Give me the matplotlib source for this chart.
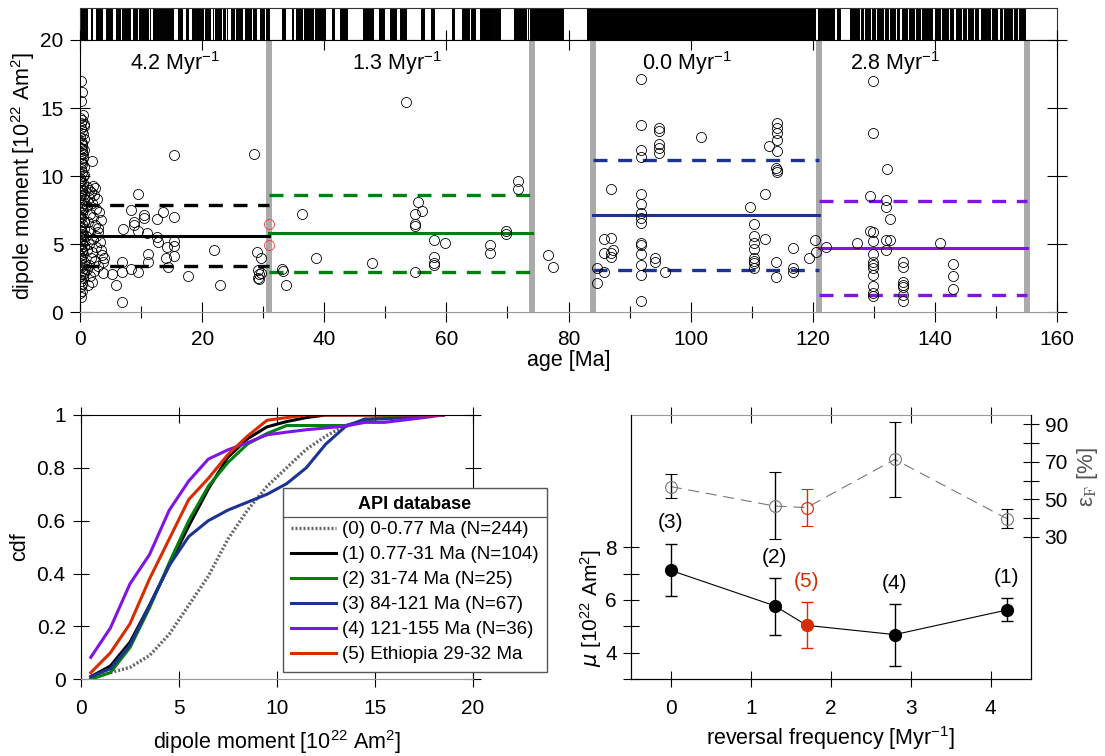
import matplotlib.pyplot as plt
from matplotlib.lines import Line2D
from matplotlib.transforms import IdentityTransform

plt.rcParams['font.family'] = ['Liberation Sans', 'DejaVu Sans']
plt.rcParams['mathtext.default'] = 'regular'
plt.rcParams['font.size'] = 15
plt.rcParams['xtick.direction'] = 'inout'
plt.rcParams['ytick.direction'] = 'inout'
plt.rcParams['axes.linewidth'] = 0.8

# ---------------- data ----------------
# polarity timescale, normal chrons (Ma)
normal_start = [0.0, 0.99, 1.77, 2.581, 3.11, 3.33, 4.18, 4.48, 4.8, 4.98, 5.894, 6.269, 6.935, 7.135,
                7.341, 7.432, 7.65, 8.225, 8.699, 9.23, 9.58, 9.74, 9.92, 11.052, 11.476, 11.935, 12.184,
                12.678, 12.775, 12.991, 13.302, 13.703, 14.178, 14.8, 15.034, 16.014, 16.327, 16.556,
                17.277, 18.281, 19.048, 20.518, 20.996, 21.768, 22.151, 22.459, 22.588, 22.804, 23.353,
                23.677, 23.999, 24.73, 24.835, 25.496, 25.823, 25.992, 27.027, 28.283, 28.578, 29.401,
                29.765, 30.479, 33.058, 34.655, 35.343, 35.685, 36.618, 37.604, 37.92, 38.426, 39.631,
                41.257, 42.536, 46.264, 49.037, 50.778, 51.047, 52.364, 52.757, 52.903, 55.904, 57.554,
                60.92, 62.499, 63.976, 65.578, 67.735, 71.071, 71.587, 73.291, 73.619, 83.0,
                120.8, 123.9, 126.1, 127.3, 127.9, 128.5, 129.0, 129.7, 130.5, 131.8, 132.6, 133.8,
                134.6, 135.8, 136.9, 137.9, 139.1, 140.0, 141.2, 142.5, 143.4, 144.6, 145.5, 146.6,
                147.5, 148.6, 149.3, 150.6, 151.3, 152.2, 152.9, 153.8]
normal_end = [0.78, 1.07, 1.95, 3.04, 3.22, 3.58, 4.29, 4.62, 4.89, 5.23, 6.137, 6.567, 7.091, 7.17,
              7.375, 7.562, 8.072, 8.257, 9.025, 9.308, 9.642, 9.88, 10.949, 11.099, 11.531, 12.078, 12.401,
              12.708, 12.819, 13.139, 13.51, 14.076, 14.612, 14.888, 15.155, 16.293, 16.488, 16.726,
              17.615, 18.781, 20.131, 20.725, 21.32, 21.859, 22.248, 22.493, 22.75, 23.069, 23.535,
              23.8, 24.118, 24.781, 25.183, 25.648, 25.951, 26.554, 27.972, 28.512, 28.745, 29.662,
              30.098, 30.939, 33.545, 34.94, 35.526, 36.341, 37.473, 37.848, 38.113, 39.552, 40.13,
              41.521, 43.789, 47.906, 49.714, 50.946, 51.743, 52.663, 52.801, 53.347, 56.391, 57.911,
              61.276, 63.634, 64.745, 67.61, 68.737, 71.338, 73.004, 73.374, 79.075, 120.4,
              123.4, 124.4, 127.0, 127.6, 128.2, 128.8, 129.4, 130.2, 131.5, 132.3, 133.5, 134.2,
              135.4, 136.5, 137.6, 138.8, 139.6, 140.8, 142.1, 143.0, 144.2, 145.1, 146.3, 147.1,
              148.3, 149.0, 150.2, 151.0, 151.9, 152.6, 153.5, 154.7]

# (0) 0-0.77 Ma
age0 = [0.1, 0.3, 0.2, 0.5, 0.0, 0.4, 0.2, 0.6, 0.1, 0.3, 0.5, 0.0, 0.7, 0.2, 0.4, 0.1, 0.6, 0.3, 0.0, 0.5,
        0.2, 0.4, 0.7, 0.1, 0.3, 0.6, 0.0, 0.2, 0.5, 0.4, 0.1, 0.3, 0.7, 0.0, 0.6, 0.2, 0.4, 0.1, 0.5, 0.3,
        0.0, 0.2, 0.6, 0.4, 0.1, 0.7, 0.3, 0.5, 0.0, 0.2, 0.4, 0.6, 0.1, 0.3, 0.5, 0.0, 0.2, 0.7, 0.4, 0.1,
        0.3, 0.6, 0.0, 0.5, 0.2, 0.4, 0.1, 0.3, 0.0, 0.2, 0.6, 0.4, 0.1, 0.5, 0.3, 0.7, 0.0, 0.2, 0.4, 0.1,
        0.6, 0.3, 0.5, 0.0, 0.2, 0.4, 0.7, 0.1, 0.3, 0.5]
vdm0 = [17.0, 16.2, 15.5, 14.5, 14.3, 14.1, 13.9, 13.7, 13.5, 13.3, 13.1, 12.9, 12.7, 12.5, 12.3, 12.1,
        11.9, 11.7, 11.5, 11.3, 11.1, 10.9, 10.7, 10.5, 10.3, 10.1, 9.9, 9.7, 9.5, 9.3, 9.1, 8.9, 8.7,
        8.5, 8.3, 8.1, 7.9, 7.7, 7.5, 7.3, 7.1, 6.9, 6.7, 6.5, 6.3, 6.1, 5.9, 5.7, 5.5, 5.3, 5.1, 4.9,
        4.7, 4.5, 4.3, 4.1, 3.9, 3.7, 3.5, 3.3, 3.1, 2.9, 2.7, 2.5, 2.3, 2.1, 1.9, 1.6, 1.4, 1.1,
        13.8, 12.4, 11.0, 10.0, 9.0, 8.0, 7.0, 6.0, 5.0, 4.0, 3.0, 12.0, 11.6, 9.6, 8.6, 7.6, 6.6,
        5.6, 4.6, 2.8]

# (1) 0.77-31 Ma
age1 = [1.2, 1.5, 1.8, 2.2, 2.5, 2.3, 1.4, 2.8, 1.9, 1.1, 2.6, 3.1, 1.6, 2.1, 3.4, 1.3, 2.4, 3.0, 1.7,
        2.9, 1.0, 2.2, 3.3, 1.5, 2.7, 1.2, 2.0, 3.6, 1.8, 2.5, 3.7, 1.4, 2.9, 1.1, 2.3, 3.8, 1.6, 2.0,
        1.3, 3.4, 3.9, 2.6, 1.96, 15.4, 28.5, 9.5, 8.3, 10.4, 10.4, 13.6, 12.6, 15.4, 8.8, 8.9, 7.0,
        9.5, 11.0, 12.6, 12.8, 15.4, 15.4, 14.3, 22.0, 11.1, 11.1, 14.1, 15.4, 14.4, 6.9, 6.9, 8.3,
        9.5, 5.3, 5.9, 6.9, 17.7, 22.9, 29.0, 29.6, 29.2, 29.7, 29.2, 29.3, 29.3]
vdm1 = [9.2, 9.0, 8.8, 9.3, 9.1, 8.6, 8.4, 8.3, 8.0, 7.8, 7.6, 7.4, 7.2, 7.0, 6.8, 6.6, 6.4, 6.2, 6.0,
        5.9, 5.6, 5.4, 5.2, 5.0, 4.8, 4.6, 4.4, 4.2, 4.0, 3.8, 3.7, 3.5, 3.4, 3.2, 3.0, 2.9, 2.7, 2.2,
        2.0, 4.6, 4.0, 5.6, 11.1, 11.57, 11.6, 8.67, 7.52, 7.15, 6.9, 7.34, 6.86, 7.0, 6.6, 6.4, 6.1,
        6.0, 5.81, 5.5, 5.14, 5.27, 4.88, 4.78, 4.6, 4.28, 3.72, 3.97, 4.13, 3.36, 3.72, 2.98, 3.16,
        2.96, 2.8, 2.0, 0.73, 2.67, 1.97, 4.41, 4.02, 3.11, 2.92, 2.54, 2.48, 2.82]

# (2) 31-74 Ma (and two points between 74 and 84 Ma)
age2 = [33.1, 33.2, 33.8, 36.4, 38.7, 47.8, 53.4, 55.4, 54.9, 56.0, 54.9, 54.9, 57.9, 59.8, 57.9, 57.9,
        57.9, 54.9, 67.2, 67.2, 69.8, 69.8, 71.8, 71.8, 76.6, 77.4]
vdm2 = [3.17, 3.07, 2.02, 7.25, 4.02, 3.62, 15.42, 8.13, 7.19, 7.41, 6.48, 6.36, 5.31, 5.09, 4.04, 3.6,
        3.48, 2.98, 4.92, 4.33, 5.97, 5.73, 9.66, 9.04, 4.21, 3.36]

# (3) 84-121 Ma
age3 = [84.6, 84.6, 85.8, 86.9, 86.9, 85.8, 86.9, 87.3, 86.9, 85.8, 91.9, 91.9, 91.9, 91.9, 91.9, 91.9,
        91.9, 91.9, 91.9, 91.9, 91.9, 91.9, 91.9, 91.9, 91.9, 94.2, 94.2, 95.8, 94.8, 94.8, 94.8, 94.8,
        94.8, 101.7, 109.8, 110.4, 110.4, 110.4, 110.4, 110.4, 110.4, 110.4, 110.4, 112.2, 112.2,
        112.8, 114.2, 114.2, 114.2, 114.2, 114.2, 113.9, 114.2, 114.2, 113.9, 113.9, 116.7, 116.8,
        116.8, 119.4, 120.3, 120.6]
vdm3 = [3.23, 2.13, 5.37, 5.49, 9.09, 4.34, 4.34, 4.58, 4.09, 2.94, 17.13, 13.72, 11.93, 11.44, 8.7,
        7.96, 7.28, 6.91, 6.59, 5.07, 4.94, 4.26, 3.47, 2.74, 0.83, 3.96, 3.67, 2.94, 13.52, 13.33,
        12.37, 12.05, 11.69, 12.86, 7.71, 6.49, 5.6, 5.12, 4.63, 3.96, 3.79, 3.6, 3.23, 8.7, 5.37,
        12.25, 13.94, 13.52, 13.16, 12.67, 11.86, 10.59, 10.46, 10.29, 3.72, 2.57, 4.75, 3.23, 2.98,
        4.02, 5.29, 4.43]

# (4) 121-155 Ma
age4 = [122.1, 127.3, 129.4, 129.8, 129.8, 129.4, 129.8, 129.8, 129.8, 129.8, 129.8, 129.8, 129.8,
        129.8, 129.8, 129.8, 132.0, 132.0, 132.2, 132.7, 132.0, 132.7, 132.0, 134.8, 134.8, 134.8,
        134.8, 134.8, 134.8, 134.8, 140.9, 142.9, 142.9, 142.9]
vdm4 = [4.78, 5.12, 8.57, 17.0, 13.2, 5.97, 5.87, 5.25, 4.28, 3.72, 3.47, 3.23, 2.74, 1.93, 1.39, 1.2,
        8.26, 7.77, 10.51, 6.86, 5.29, 5.29, 4.58, 3.72, 3.36, 2.25, 2.0, 1.85, 1.29, 0.8, 5.12, 3.55,
        2.7, 1.71]

# (5) Ethiopia
age5 = [31.0, 31.0]
vdm5 = [6.51, 4.95]

interval_start = [0.77, 31, 84, 121]
interval_end = [31, 74, 121, 155]
interval_mean = [5.63, 5.81, 7.15, 4.70]
interval_hi = [7.87, 8.62, 11.22, 8.18]
interval_lo = [3.40, 2.94, 3.09, 1.25]
interval_freq = ['4.2', '1.3', '0.0', '2.8']
freq_label_x = [15.5, 52.0, 99.5, 133.5]
boundaries = [31, 74, 84, 121, 155]

# cdfs
cdf_x = [0.5, 1.5, 2.5, 3.5, 4.5, 5.5, 6.5, 7.5, 8.5, 9.5, 10.5, 11.5, 12.5, 13.5, 14.5, 15.5, 16.5,
         17.5, 18.5]
cdf0 = [0.01, 0.025, 0.045, 0.09, 0.17, 0.28, 0.39, 0.53, 0.64, 0.73, 0.80, 0.87, 0.92, 0.96, 0.98,
        0.99, 1.0, 1.0, 1.0]
cdf1 = [0.01, 0.05, 0.14, 0.28, 0.43, 0.58, 0.72, 0.84, 0.91, 0.955, 0.975, 0.99, 1.0, 1.0, 1.0, 1.0,
        1.0, 1.0, 1.0]
cdf2 = [0.0, 0.025, 0.12, 0.27, 0.44, 0.60, 0.73, 0.82, 0.89, 0.93, 0.96, 0.96, 0.96, 0.96, 0.98,
        0.99, 1.0, 1.0, 1.0]
cdf3 = [0.01, 0.04, 0.13, 0.28, 0.43, 0.54, 0.60, 0.64, 0.67, 0.70, 0.74, 0.80, 0.89, 0.956, 0.985,
        0.985, 0.99, 1.0, 1.0]
cdf4 = [0.083, 0.194, 0.361, 0.472, 0.639, 0.75, 0.833, 0.868, 0.895, 0.925, 0.935, 0.944, 0.951,
        0.958, 0.972, 0.972, 0.981, 0.99, 1.0]
cdf5 = [0.025, 0.10, 0.21, 0.38, 0.53, 0.68, 0.76, 0.85, 0.92, 0.98, 0.99, 1.0, 1.0, 1.0, 1.0, 1.0,
        1.0, 1.0, 1.0]
cdf_labels = ['(0) 0-0.77 Ma (N=244)', '(1) 0.77-31 Ma (N=104)', '(2) 31-74 Ma (N=25)',
              '(3) 84-121 Ma (N=67)', '(4) 121-155 Ma (N=36)', '(5) Ethiopia 29-32 Ma']

# mean dipole moment / field variability vs reversal frequency
freq = [0.0, 1.3, 1.7, 2.8, 4.2]
mu = [7.12, 5.78, 5.04, 4.69, 5.62]
mu_lo = [6.14, 4.68, 4.18, 3.52, 5.19]
mu_hi = [8.10, 6.85, 5.92, 5.85, 6.06]
eps = [56.8, 46.4, 45.6, 71.3, 39.7]
eps_lo = [50.5, 29.0, 35.6, 51.4, 34.5]
eps_hi = [63.5, 64.8, 55.7, 91.4, 45.0]
point_labels = ['(3)', '(2)', '(5)', '(4)', '(1)']
point_label_y = [8.92, 7.6, 6.7, 6.64, 6.85]

c_green = '#00800f'
c_blue = '#1c3391'
c_purple = '#7e14e6'
c_red = '#d92b00'
series_colors = ['black', c_green, c_blue, c_purple]
cdf_colors = ['#666666', 'black', c_green, c_blue, c_purple, c_red]

fig = plt.figure(figsize=(11.05, 7.56), dpi=100)

# ---------------- polarity bar ----------------
axp = fig.add_axes([0.0724, 0.9471, 0.8842, 0.0423])
axp.broken_barh([(s, e - s) for s, e in zip(normal_start, normal_end)], (0, 1),
                facecolors='black', edgecolors='black', linewidth=0.7)
axp.set_xlim(0, 160)
axp.set_ylim(0, 1)
axp.set_xticks([])
axp.set_yticks([])
for sp in axp.spines.values():
    sp.set_color('#333333')

# ---------------- top panel ----------------
ax = fig.add_axes([0.0724, 0.5869, 0.8842, 0.3602])
for b in boundaries:
    ax.axvline(b, color='#aaaaaa', lw=4.3, zorder=1)
for i in range(4):
    xs = [interval_start[i], interval_end[i]]
    ax.plot(xs, [interval_mean[i]] * 2, color=series_colors[i], lw=2.2, zorder=2)
    ax.plot(xs, [interval_hi[i]] * 2, color=series_colors[i], lw=2.4, dashes=(4.2, 3.2), zorder=2)
    ax.plot(xs, [interval_lo[i]] * 2, color=series_colors[i], lw=2.4, dashes=(4.2, 3.2), zorder=2)
    ax.text(freq_label_x[i], 18.3, interval_freq[i] + ' Myr$^{-1}$', ha='center', va='center',
            fontsize=15.5)
for a, v in [(age0, vdm0), (age1, vdm1), (age2, vdm2), (age3, vdm3), (age4, vdm4)]:
    ax.plot(a, v, 'o', mfc='none', mec='black', ms=7.2, mew=0.6, zorder=3)
ax.plot(age5, vdm5, 'o', mfc='none', mec='#ff3333', ms=7.2, mew=0.6, zorder=3)
ax.set_xlim(0, 160)
ax.set_ylim(0, 20)
ax.set_xticks(range(0, 161, 20))
ax.set_xticks(range(10, 160, 20), minor=True)
ax.set_yticks(range(0, 21, 5))
ax.tick_params(which='major', length=14, width=0.8, top=True, right=True, pad=5, labelsize=15)
ax.tick_params(axis='x', which='major', pad=6)
ax.tick_params(which='minor', length=8.5, width=0.8, top=False)
ax.spines['bottom'].set_color('#999999')
ax.text(-0.058, 0.5, 'dipole moment [10$^{22}$ Am$^2$]', transform=ax.transAxes, rotation=90,
        ha='center', va='center', fontsize=15.5)
ax.text(0.5, -0.178, 'age [Ma]', transform=ax.transAxes, ha='center', va='center', fontsize=15.5)

# ---------------- cdf panel ----------------
axc = fig.add_axes([0.0733, 0.1015, 0.3545, 0.3496])
cdfs = [cdf0, cdf1, cdf2, cdf3, cdf4, cdf5]
for i, c in enumerate(cdfs):
    if i == 0:
        axc.plot(cdf_x, c, color=cdf_colors[i], lw=2.4, ls=(0, (0.6, 0.6)), label=cdf_labels[i])
    else:
        axc.plot(cdf_x, c, color=cdf_colors[i], lw=2.2, label=cdf_labels[i])
axc.set_xlim(0, 20)
axc.set_ylim(0, 1)
axc.set_xticks([0, 5, 10, 15, 20])
axc.set_yticks([0, 0.2, 0.4, 0.6, 0.8, 1])
axc.set_yticklabels(['0', '0.2', '0.4', '0.6', '0.8', '1'])
axc.tick_params(length=12, width=0.8, top=True, right=True, labelsize=15)
axc.tick_params(axis='x', pad=8)
axc.tick_params(axis='y', pad=5)
axc.spines['bottom'].set_color('#999999')
axc.text(-0.156, 0.5, 'cdf', transform=axc.transAxes, rotation=90, ha='center', va='center',
         fontsize=15.5)
axc.text(0.5, -0.237, 'dipole moment [10$^{22}$ Am$^2$]', transform=axc.transAxes, ha='center',
         va='center', fontsize=15.5)
leg = axc.legend(loc='upper left', bbox_to_anchor=(0.5157, 0.7238), borderaxespad=0,
                 fancybox=False, edgecolor='#555555', framealpha=1, fontsize=13.5,
                 title='API database', title_fontproperties={'weight': 'bold', 'size': 13},
                 handlelength=2.4, handletextpad=0.27, labelspacing=0.42, borderpad=0.45)
leg.set_zorder(10)

# ---------------- reversal frequency panel ----------------
axr = fig.add_axes([0.5708, 0.1015, 0.362, 0.3496])
axe = axr.twinx()
axe.plot(freq, eps, color='#777777', lw=0.8, dashes=(10, 6), zorder=1)
for i in range(len(freq)):
    col = c_red if i == 2 else 'black'
    axe.errorbar(freq[i], eps[i], yerr=[[eps[i] - eps_lo[i]], [eps_hi[i] - eps[i]]], fmt='o',
                 mfc='none', mec=c_red if i == 2 else '#777777', ms=8.5, mew=0.8, ecolor=col,
                 elinewidth=1, capsize=4.3, capthick=1)
axr.plot(freq, mu, color='black', lw=0.8, zorder=1)
for i in range(len(freq)):
    col = c_red if i == 2 else 'black'
    axr.errorbar(freq[i], mu[i], yerr=[[mu[i] - mu_lo[i]], [mu_hi[i] - mu[i]]], fmt='o', mfc=col,
                 mec=col, ms=8.5, ecolor=col, elinewidth=1, capsize=4.3, capthick=1)
    axr.text(freq[i], point_label_y[i], point_labels[i], ha='center', va='center', fontsize=15,
             color=col)
axr.set_xlim(-0.5, 4.5)
axr.set_ylim(3, 13)
axr.set_xticks([0, 1, 2, 3, 4])
axr.set_yticks([3, 4, 5, 6, 7, 8])
axr.set_yticklabels(['', '4', '', '6', '', '8'])
axr.tick_params(length=12, width=0.8, top=True, right=False, labelsize=15)
axr.tick_params(axis='x', pad=8)
axr.tick_params(axis='y', pad=4)
axr.spines['top'].set_color('#999999')
axe.set_ylim(-46, 95)
axe.set_yticks([30, 40, 50, 60, 70, 80, 90])
axe.set_yticklabels(['30', '', '50', '', '70', '', '90'])
axe.tick_params(length=12, width=0.8, pad=4, labelsize=15)
axe.spines['top'].set_visible(False)
axr.text(-0.1, 0.27, r'$\mathit{\mu}$ [10$^{22}$ Am$^2$]', transform=axr.transAxes, rotation=90,
         ha='center', va='center', fontsize=15)
axr.text(1.141, 0.765, r'$\varepsilon_\mathrm{F}$ [%]', transform=axr.transAxes, rotation=90,
         ha='center', va='center', fontsize=16, color='#555555', math_fontfamily='cm')
axr.text(0.5, -0.222, 'reversal frequency [Myr$^{-1}$]', transform=axr.transAxes, ha='center',
         va='center', fontsize=15.5)

# separator line under the legend title
fig.canvas.draw()
tb = leg.get_title().get_window_extent()
fb = leg.get_frame().get_window_extent()
ysep = tb.y0 - 4
fig.add_artist(Line2D([fb.x0, fb.x1], [ysep, ysep], transform=IdentityTransform(), color='#555555',
                      lw=0.9, zorder=11))

fig.savefig('out.png', dpi=100)
